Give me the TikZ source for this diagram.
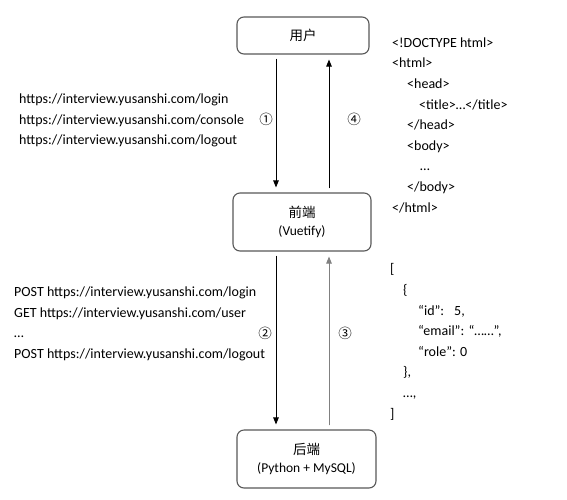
\documentclass[tikz,border=0pt]{standalone}
\usepackage{fontspec}
\setmainfont{Carlito}
\newfontfamily\cjk{Noto Sans CJK SC}
\usetikzlibrary{arrows.meta}
\definecolor{boxline}{HTML}{595959}
\definecolor{grayarrow}{HTML}{808080}
\tikzset{
  box/.style={draw=boxline, line width=1.1pt, rounded corners=7pt, inner sep=0pt, align=center,
              font=\fontsize{13.5}{18.5}\selectfont},
  arr/.style={line width=0.9pt, -{Triangle[width=5.5pt,length=7pt]}, shorten <=4pt, shorten >=5pt},
  txt/.style={font=\fontsize{14}{20.6}\selectfont, align=left, inner sep=0pt, anchor=base west},
  num/.style={font=\cjk\fontsize{13.5}{13.5}\selectfont, inner sep=0pt}
}
\begin{document}
\begin{tikzpicture}[x=1pt,y=-1pt]
\useasboundingbox[fill=white] (0,0) rectangle (567,499);
% boxes
\node[box, minimum width=132pt, minimum height=37pt] (user) at (303,35.5) {{\cjk 用户}};
\node[box, minimum width=138pt, minimum height=58pt] (fe) at (302,222) {{\cjk 前端}\\(Vuetify)};
\node[box, minimum width=139pt, minimum height=58pt] (be) at (306.5,459) {{\cjk 后端}\\(Python + MySQL)};
% columns
\coordinate (L) at (276,0);
\coordinate (R) at (329,0);
% arrows
\draw[arr] (user.south -| L) -- (fe.north -| L);
\draw[arr] (fe.north -| R) -- (user.south -| R);
\draw[arr] (fe.south -| L) -- (be.north -| L);
\draw[arr, draw=grayarrow, fill=grayarrow] (be.north -| R) -- (fe.south -| R);
% numbers
\node[num] (n1) at (266,119) {①};
\node[num] (n4) at (354,119) {④};
\node[num] (n2) at (265,333) {②};
\node[num] (n3) at (345,333) {③};
% texts (anchored at the baseline of the last line)
\node[txt] (urls) at (19,144.7) {https://interview.yusanshi.com/login\\https://interview.yusanshi.com/console\\https://interview.yusanshi.com/logout};
\node[txt] (api) at (14,358.3) {POST https://interview.yusanshi.com/login\\GET https://interview.yusanshi.com/user\\…\\POST https://interview.yusanshi.com/logout};
\node[txt] (html) at (392,212) {<!DOCTYPE html>\\<html>\\\hspace*{15pt}<head>\\\hspace*{27pt}<title>…</title>\\\hspace*{15pt}</head>\\\hspace*{15pt}<body>\\\hspace*{28pt}…\\\hspace*{15pt}</body>\\</html>};
\node[txt] (json) at (390,418) {[\\\hspace*{13pt}\{\\\hspace*{28pt}“id”:\hspace*{10pt}5,\\\hspace*{28pt}“email”: “……”,\\\hspace*{28pt}“role”: 0\\\hspace*{13pt}\},\\\hspace*{13pt}…,\\]};
\end{tikzpicture}
\end{document}
